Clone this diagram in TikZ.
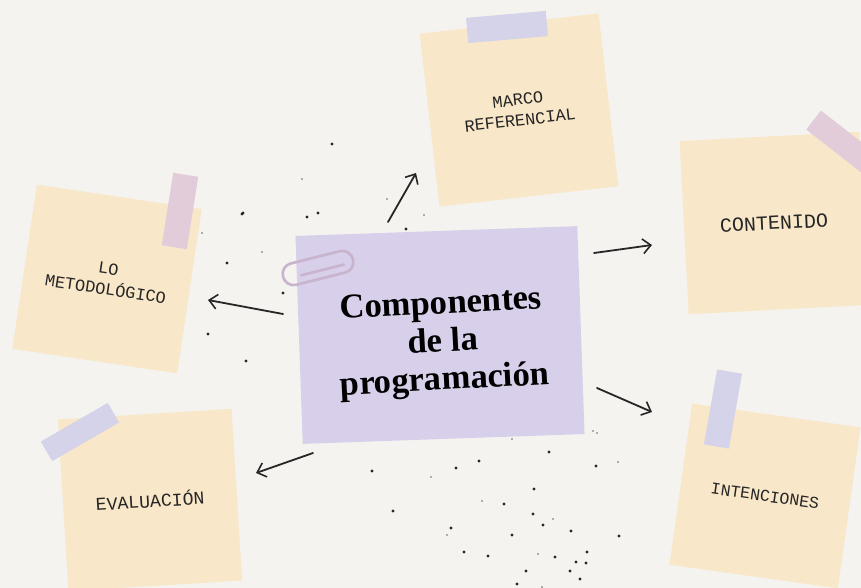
\documentclass[tikz,border=0pt]{standalone}
\usepackage{fontspec}
\setmainfont{Liberation Serif}
\newfontfamily\labfont{Liberation Mono}
\usetikzlibrary{arrows.meta}
\definecolor{bg}{HTML}{F4F3EF}
\definecolor{notec}{HTML}{F8E7C8}
\definecolor{purp}{HTML}{D8CFEA}
\definecolor{lav}{HTML}{D5D3EA}
\definecolor{pinkt}{HTML}{E3CCD9}
\definecolor{ink}{HTML}{262626}
\definecolor{clipc}{HTML}{C8B4CD}
\begin{document}
\begin{tikzpicture}[x=0.75pt,y=-0.75pt,
  note/.style={fill=notec, inner sep=0pt, text=ink, align=center,
    font=\labfont\fontsize{12.7}{15.5}\selectfont},
  tape/.style={inner sep=0pt},
  arr/.style={draw=ink, line width=1.35pt, line cap=round,
    -{Straight Barb[length=6pt,width=11pt,line width=1.2pt]}},
  dotb/.style={fill=ink},
  dots/.style={fill=ink!70}]
\useasboundingbox (0,0) rectangle (861,588);
\fill[bg] (0,0) rectangle (861,588);
\clip (0,0) rectangle (861,588);

% satellite notes
\node[note, minimum width=135pt, minimum height=130.5pt, rotate=6.5] (marco) at (519,110) {MARCO\\REFERENCIAL};
\node[note, minimum width=135pt, minimum height=130pt, rotate=3, font=\labfont\fontsize{15}{16}\selectfont] (contenido) at (774,223) {CONTENIDO};
\node[note, minimum width=125pt, minimum height=124.5pt, rotate=-8.5] (metodo) at (107,279) {LO\\METODOLÓGICO};
\node[note, minimum width=130.5pt, minimum height=129pt, rotate=3.5, font=\labfont\fontsize{13.6}{15}\selectfont] (evaluacion) at (150,500) {EVALUACIÓN};
\node[note, minimum width=127.5pt, minimum height=122pt, rotate=-8, font=\labfont\fontsize{12.4}{14}\selectfont] (intenciones) at (765,496) {INTENCIONES};

% tapes
\node[tape, fill=lav, minimum width=60pt, minimum height=19pt, rotate=5] (t1) at (507,27) {};
\node[tape, fill=pinkt, minimum width=56pt, minimum height=18pt, rotate=-38] (t2) at (843,143) {};
\node[tape, fill=pinkt, minimum width=19pt, minimum height=55pt, rotate=-9] (t3) at (180,211) {};
\node[tape, fill=lav, minimum width=58pt, minimum height=17pt, rotate=30] (t4) at (80,432) {};
\node[tape, fill=lav, minimum width=19pt, minimum height=57pt, rotate=-10] (t5) at (723,409) {};

% central note
\node[fill=purp, inner sep=0pt, minimum width=211.5pt, minimum height=156pt, rotate=2] (centro) at (440,335) {};
\node[inner sep=0pt, align=center, text=black, rotate=3,
  font=\bfseries\fontsize{26}{28.5}\selectfont] (titulo) at (443,344)
  {Componentes\\de la\\programación};

% paperclip
\begin{scope}[shift={(318,268)}, rotate=14]
  \draw[clipc, line width=2pt, rounded corners=8pt] (-36,-11) rectangle (36,11);
  \draw[clipc, line width=2pt, line cap=round] (-18,3) -- (26,3);
\end{scope}

% arrow end points
\coordinate (a1s) at (388,222); \coordinate (a1e) at (416,173);
\coordinate (a2s) at (594,253); \coordinate (a2e) at (652,245);
\coordinate (a3s) at (283,314); \coordinate (a3e) at (208,300);
\coordinate (a4s) at (597,388); \coordinate (a4e) at (652,412);
\coordinate (a5s) at (313,453); \coordinate (a5e) at (256,473);
\draw[arr] (a1s) -- (a1e);
\draw[arr] (a2s) -- (a2e);
\draw[arr] (a3s) -- (a3e);
\draw[arr] (a4s) -- (a4e);
\draw[arr] (a5s) -- (a5e);

% scattered dots
\foreach \x/\y in {372/471,393/511,456/468,479/461,549/452,596/466,534/489,
  504/504,533/514,543/525,451/528,512/535,571/531,619/536,464/552,488/556,
  555/557,587/552,576/562,586/563,526/571,570/571,580/579,517/584,
  332/144,242/214,307/217,318/213,406/229,243/213,227/263,283/293,208/334,246/361}
  \fill[dotb] (\x,\y) circle (1.6);
\foreach \x/\y in {512/439,618/462,431/477,482/501,553/519,447/535,538/554,
  542/587,302/179,387/199,424/215,202/233,262/252,593/431,597/433}
  \fill[dots] (\x,\y) circle (0.9);
\end{tikzpicture}
\end{document}
